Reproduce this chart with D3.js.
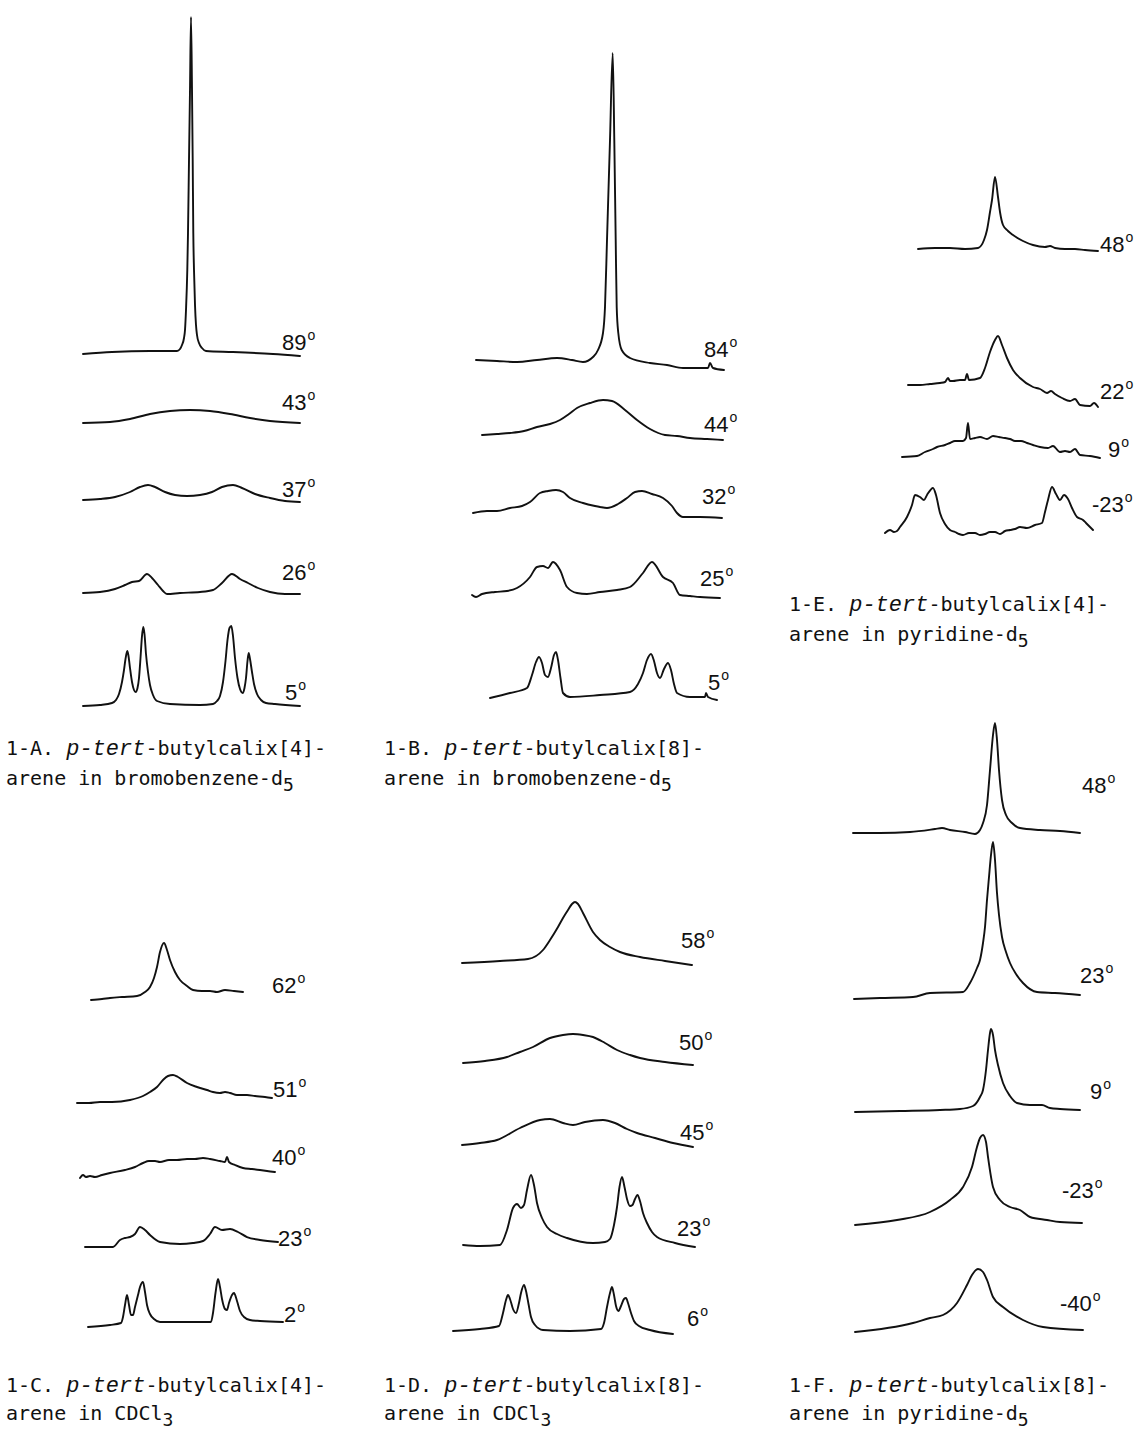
<!DOCTYPE html>
<html>
<head>
<meta charset="utf-8">
<script src="https://cdn.jsdelivr.net/npm/d3@7"></script>
<style>
  html, body { margin: 0; padding: 0; background: #fff; }
  svg { display: block; }
</style>
</head>
<body>
<div id="chart"></div>
<script>
// ---------------- DATA (shift offset, intensity) ----------------
// Panel 1-A : p-tert-butylcalix[4]arene in bromobenzene-d5
const tempsA = ["89", "43", "37", "26", "5"];
const specA89 = [[0,1],[29,3],[67,4],[94,4],[97,6],[99,10],[101,17],[102,25],[103,45],[104.3,85],[105,122],[106,195],[107,265],[108,338],[109,265],[109.7,195],[110.3,122],[111,85],[112,50],[113,30],[114,20],[116,12],[119,7],[123,4],[150,3],[190,1],[217,-1]];
const specA43 = [[0,0],[27,1],[47,4],[67,9],[87,12],[107,13],[127,12],[147,9],[167,5],[187,2],[217,0]];
const specA37 = [[0,0],[17,1],[32,3],[47,8],[57,13],[65,15],[72,13],[82,8],[92,5],[104,4],[117,5],[129,8],[139,13],[150,15],[159,12],[172,6],[187,2],[202,-1],[217,-2]];
const specA26 = [[0,0],[17,1],[32,4],[42,8],[49,11],[56,12],[64,19],[69,15],[75,8],[80,2],[84,-1],[97,0],[117,1],[130,3],[139,10],[149,19],[157,14],[165,10],[175,5],[187,1],[202,-1],[217,-1]];
const specA5 = [[0,0],[17,1],[29,3],[33,6],[36,12],[39,24],[41,36],[42.5,47],[44.3,55],[45.5,50],[47,38],[49,24],[51,16],[52.7,14],[54.5,18],[56,28],[57.5,48],[59,70],[60.3,79],[61.5,72],[63,52],[65,34],[67,21],[70,11],[74,5],[87,2],[117,1],[130,2],[134,5],[137,10],[140,24],[142.5,45],[144.5,66],[146.5,78],[148.3,80],[150,70],[152,48],[154.5,28],[157,17],[159.7,13],[161.5,18],[163,28],[164.5,45],[165.7,53],[167,47],[169,34],[171,22],[174,12],[178,6],[183,3],[192,2],[217,0]];

// Panel 1-B : p-tert-butylcalix[8]arene in bromobenzene-d5
const tempsB = ["84", "44", "32", "25", "5"];
const specB84 = [[4,0],[25,-1],[45,-2],[65,0],[85,2],[100,0],[111,-2],[121,3],[126,10],[131,27],[133,53],[135,120],[138,220],[140.7,307],[142.3,220],[143.7,120],[144.7,53],[146.3,27],[149.7,10],[158,2],[178,-3],[195,-5],[211,-8],[236,-8],[238,-3],[241,-8],[252,-10]];
const specB44 = [[10,0],[25,1],[38,2],[52,4],[65,8],[78,11],[88,15],[97,21],[105,27],[118,32],[131,35],[140,34],[153,25],[165,15],[178,6],[193,0],[205,-1],[218,-3],[235,-4],[251,-5]];
const specB32 = [[1,0],[15,2],[25,2],[38,5],[50,7],[58,11],[68,20],[76,22],[84,23],[91,21],[98,15],[111,10],[123,7],[128,6],[135,5],[146,9],[155,15],[163,21],[170,22],[180,19],[191,15],[200,7],[205,0],[211,-4],[228,-4],[250,-5]];
const specB25 = [[0,0],[4,-2],[10,1],[23,3],[35,4],[45,7],[58,18],[65,28],[71,29],[76,27],[81,33],[88,25],[95,8],[105,2],[115,1],[128,3],[145,5],[158,8],[171,22],[180,33],[191,18],[201,12],[208,0],[218,-1],[228,-2],[248,-3]];
const specB5 = [[18,0],[38,5],[55,10],[60,23],[64,36],[67,41],[70,35],[73,23],[76,21],[79,30],[82,43],[84,46],[86,38],[88.5,20],[91,5],[98,1],[128,3],[158,6],[166,14],[171,25],[175,38],[179,44],[182,37],[185,25],[188,20],[192,29],[196,35],[199,28],[202,14],[205,5],[218,1],[233,1],[234,5],[236,1],[245,-2]];

// Panel 1-E : p-tert-butylcalix[4]arene in pyridine-d5
const tempsE = ["48", "22", "9", "-23"];
const specE48 = [[33,0],[50,1],[65,1],[80,0],[93,1],[99,9],[102,19],[105,37],[107,49],[110,72],[113,52],[115,37],[118,24],[123,18],[128,14],[138,8],[148,4],[160,2],[165,3],[170,1],[180,0],[190,0],[200,-1],[213,-2]];
const specE22 = [[23,0],[35,0],[45,1],[55,2],[60,3],[63,7],[65,4],[68,4],[75,5],[80,5],[82,11],[84,5],[95,7],[100,17],[105,33],[110,45],[113,49],[117,40],[122,27],[128,15],[135,7],[148,-2],[155,-4],[162,-8],[166,-6],[170,-9],[177,-13],[185,-16],[190,-14],[195,-20],[205,-21],[209,-18],[213,-22]];
const specE9 = [[17,0],[32,1],[40,5],[48,8],[52,10],[60,12],[65,14],[70,16],[78,16],[81,19],[83,34],[85,18],[90,19],[95,20],[102,18],[108,21],[114,20],[120,19],[125,18],[130,16],[136,16],[142,14],[148,12],[155,10],[163,9],[168,11],[175,5],[180,6],[185,5],[190,8],[195,2],[205,1],[215,-1]];
const specEm23 = [[0,0],[5,3],[9,1],[12,2],[15,6],[22,16],[27,28],[30,38],[35,36],[39,33],[42,38],[48,45],[51,38],[55,20],[60,9],[65,3],[70,1],[74,-1],[78,-2],[84,0],[90,0],[95,-2],[100,-1],[105,1],[110,1],[115,-1],[120,2],[125,3],[130,4],[135,6],[142,5],[150,8],[157,10],[160,21],[163,33],[167,46],[171,39],[175,33],[179,38],[183,34],[187,25],[192,16],[198,13],[201,10],[205,6],[208,3]];

// Panel 1-C : p-tert-butylcalix[4]arene in CDCl3
const tempsC = ["62", "51", "40", "23", "2"];
const specC62 = [[14,0],[25,1],[33,2],[45,3],[60,4],[68,8],[73,13],[77,22],[80,33],[83,48],[87,57],[90,50],[93,40],[98,28],[103,20],[110,14],[116,10],[125,9],[133,9],[140,8],[148,10],[157,9],[166,8]];
const specC51 = [[0,0],[12,0],[23,1],[35,1],[53,3],[66,7],[73,11],[80,16],[86,23],[91,27],[96,28],[101,26],[110,20],[120,16],[130,13],[136,11],[143,10],[148,11],[153,10],[160,8],[170,8],[178,7],[188,6],[195,5]];
const specC40 = [[3,0],[6,3],[9,1],[13,2],[18,1],[25,3],[33,5],[48,8],[58,11],[66,15],[72,17],[78,17],[83,16],[92,18],[100,18],[110,19],[118,19],[126,20],[133,19],[143,17],[148,16],[150,21],[152,16],[158,13],[166,10],[175,9],[183,8],[190,7],[198,6]];
const specC23 = [[8,0],[36,0],[43,7],[48,9],[53,10],[58,13],[63,20],[68,17],[73,12],[83,5],[103,3],[116,4],[126,6],[133,13],[138,20],[145,17],[153,18],[161,15],[170,10],[183,7],[201,5]];
const specC2 = [[11,0],[33,2],[44,4],[46,10],[48,22],[50,32],[52,22],[54,12],[56,12],[58,20],[61,32],[63,40],[66,45],[68,35],[70,22],[73,13],[77,8],[83,5],[113,5],[134,5],[136,14],[138.5,34],[141,48],[143,40],[145,28],[148,18],[150,17],[152,24],[155,32],[157,34],[160,26],[163,16],[167,10],[173,7],[183,6],[206,5]];

// Panel 1-D : p-tert-butylcalix[8]arene in CDCl3
const tempsD = ["58", "50", "45", "23", "6"];
const specD58 = [[9,0],[47,2],[75,4],[90,13],[97,23],[105,36],[110,45],[115,53],[119,59],[122,61],[125,59],[130,50],[140,31],[147,23],[157,16],[167,11],[187,6],[212,2],[239,-2]];
const specD50 = [[10,0],[32,2],[54,6],[67,11],[80,16],[97,25],[110,28],[120,29],[130,28],[140,26],[152,20],[164,13],[177,8],[187,5],[212,1],[240,-2]];
const specD45 = [[9,0],[27,2],[44,5],[67,17],[87,25],[97,26],[110,22],[120,20],[132,23],[150,25],[162,22],[174,16],[184,12],[202,7],[220,2],[240,-2]];
const specD23 = [[10,0],[27,-1],[47,0],[54,15],[60,37],[64,41],[68,37],[71,40],[74,55],[78,70],[81,60],[84,42],[89,27],[94,18],[104,11],[114,7],[140,2],[152,3],[157,6],[161,20],[164,38],[166.5,58],[169,68],[171.5,58],[174,46],[177,39],[179.5,40],[182,46],[184.5,50],[187,44],[190,32],[194,22],[199,13],[204,8],[222,2],[242,-2]];
const specD6 = [[0,0],[27,2],[46,5],[50,18],[53,31],[55,36],[57,32],[60,22],[63,18],[66,28],[68,38],[71,46],[73,40],[75.5,27],[78,14],[82,6],[90,1],[117,0],[148,2],[151,8],[154,24],[157,38],[159,44],[161,36],[163,25],[165.5,20],[168,25],[171,32],[173,33],[175,28],[178,18],[181,10],[186,5],[197,1],[220,-3]];

// Panel 1-F : p-tert-butylcalix[8]arene in pyridine-d5
const tempsF = ["48", "23", "9", "-23", "-40"];
const specF48 = [[0,0],[27,0],[57,1],[82,4],[89,5],[97,3],[112,1],[122,-1],[127,3],[130,10],[134,28],[137,63],[140,98],[142,110],[144,93],[146,63],[149,33],[153,18],[159,10],[167,5],[187,3],[207,2],[227,0]];
const specF23 = [[1,0],[27,1],[60,2],[77,6],[110,7],[117,16],[124,31],[127,39],[130,56],[132,72],[134,99],[136,122],[138,144],[140,157],[142,139],[144,106],[146,84],[149,62],[153,47],[157,36],[163,25],[170,16],[184,7],[202,6],[227,4]];
const specF9 = [[2,0],[47,1],[87,2],[107,3],[120,6],[127,15],[130,22],[133,42],[135,62],[137,79],[138,83],[140,77],[142,62],[145,47],[150,29],[157,16],[164,9],[177,7],[189,7],[197,4],[207,3],[227,2]];
const specFm23 = [[2,0],[44,5],[77,13],[97,25],[110,38],[119,58],[124,78],[127,87],[130,90],[133,83],[135,68],[140,38],[147,25],[157,18],[167,15],[177,8],[194,5],[207,3],[229,2]];
const specFm40 = [[2,0],[60,9],[77,14],[90,17],[104,29],[114,47],[119,57],[125,63],[130,60],[134,52],[140,35],[150,25],[170,12],[190,5],[230,2]];

// Captions
const captionA = ["1-A. ", "p-tert", "-butylcalix[4]-", "arene in bromobenzene-d", "5"];
const captionB = ["1-B. ", "p-tert", "-butylcalix[8]-", "arene in bromobenzene-d", "5"];
const captionE = ["1-E. ", "p-tert", "-butylcalix[4]-", "arene in pyridine-d", "5"];
const captionC = ["1-C. ", "p-tert", "-butylcalix[4]-", "arene in CDCl", "3"];
const captionD = ["1-D. ", "p-tert", "-butylcalix[8]-", "arene in CDCl", "3"];
const captionF = ["1-F. ", "p-tert", "-butylcalix[8]-", "arene in pyridine-d", "5"];

// ---------------- LAYOUT (positions only) ----------------
const W = 1140, H = 1429;
const panels = [
  { temps: tempsA, specs: [specA89, specA43, specA37, specA26, specA5], caption: captionA,
    x0: 83, base: [355, 423, 500, 593, 706],
    lab: [[282,350],[282,410],[282,497],[282,580],[285,700]], cap: [6, 755], gap: 30 },
  { temps: tempsB, specs: [specB84, specB44, specB32, specB25, specB5], caption: captionB,
    x0: 472, base: [360, 435, 513, 595, 698],
    lab: [[704,357],[704,432],[702,504],[700,586],[708,690]], cap: [384, 755], gap: 30 },
  { temps: tempsE, specs: [specE48, specE22, specE9, specEm23], caption: captionE,
    x0: 885, base: [249, 385, 457, 533],
    lab: [[1100,252],[1100,399],[1108,457],[1092,512]], cap: [789, 611], gap: 30 },
  { temps: tempsC, specs: [specC62, specC51, specC40, specC23, specC2], caption: captionC,
    x0: 77, base: [1000, 1103, 1178, 1247, 1327],
    lab: [[272,993],[273,1097],[272,1165],[278,1246],[284,1322]], cap: [6, 1392], gap: 28 },
  { temps: tempsD, specs: [specD58, specD50, specD45, specD23, specD6], caption: captionD,
    x0: 453, base: [963, 1063, 1145, 1245, 1331],
    lab: [[681,948],[679,1050],[680,1140],[677,1236],[687,1326]], cap: [384, 1392], gap: 28 },
  { temps: tempsF, specs: [specF48, specF23, specF9, specFm23, specFm40], caption: captionF,
    x0: 853, base: [833, 999, 1112, 1225, 1332],
    lab: [[1082,793],[1080,983],[1090,1099],[1062,1198],[1060,1311]], cap: [789, 1392], gap: 28 }
];

const svg = d3.select("#chart").append("svg")
  .attr("width", W).attr("height", H)
  .attr("viewBox", `0 0 ${W} ${H}`);
svg.append("rect").attr("width", W).attr("height", H).attr("fill", "#fff");

const ink = "#111";
const monoFont = "'DejaVu Sans Mono', 'Liberation Mono', monospace";
const labFont = "'Liberation Sans', Arial, sans-serif";

panels.forEach(p => {
  const g = svg.append("g");
  const x = d3.scaleLinear().domain([0, 260]).range([p.x0, p.x0 + 260]);
  p.specs.forEach((spec, i) => {
    const y = d3.scaleLinear().domain([0, 100]).range([p.base[i], p.base[i] - 100]);
    const line = d3.line()
      .x(d => x(d[0]))
      .y(d => y(d[1]))
      .curve(d3.curveMonotoneX);
    g.append("path")
      .datum(spec)
      .attr("d", line)
      .attr("fill", "none")
      .attr("stroke", ink)
      .attr("stroke-width", 1.9)
      .attr("stroke-linejoin", "round")
      .attr("stroke-linecap", "round");

    const t = g.append("text")
      .attr("x", p.lab[i][0]).attr("y", p.lab[i][1])
      .attr("font-family", labFont)
      .attr("font-size", 22)
      .attr("fill", ink);
    t.append("tspan").text(p.temps[i]);
    t.append("tspan").attr("font-size", 14).attr("dy", -10).attr("dx", 1).text("o");
  });

  // caption
  const c = p.caption;
  const t1 = g.append("text")
    .attr("x", p.cap[0]).attr("y", p.cap[1])
    .attr("font-family", monoFont).attr("font-size", 20).attr("fill", ink)
    .attr("xml:space", "preserve");
  t1.append("tspan").text(c[0]);
  t1.append("tspan")
    .attr("font-family", "'Liberation Mono', 'DejaVu Serif', serif")
    .attr("font-style", "italic").attr("font-size", 22).text(c[1]);
  t1.append("tspan").text(c[2]);

  const t2 = g.append("text")
    .attr("x", p.cap[0]).attr("y", p.cap[1] + p.gap)
    .attr("font-family", monoFont).attr("font-size", 20).attr("fill", ink)
    .attr("xml:space", "preserve");
  t2.append("tspan").text(c[3]);
  t2.append("tspan").attr("dy", 6).attr("font-size", 18).text(c[4]);
});
</script>
</body>
</html>
